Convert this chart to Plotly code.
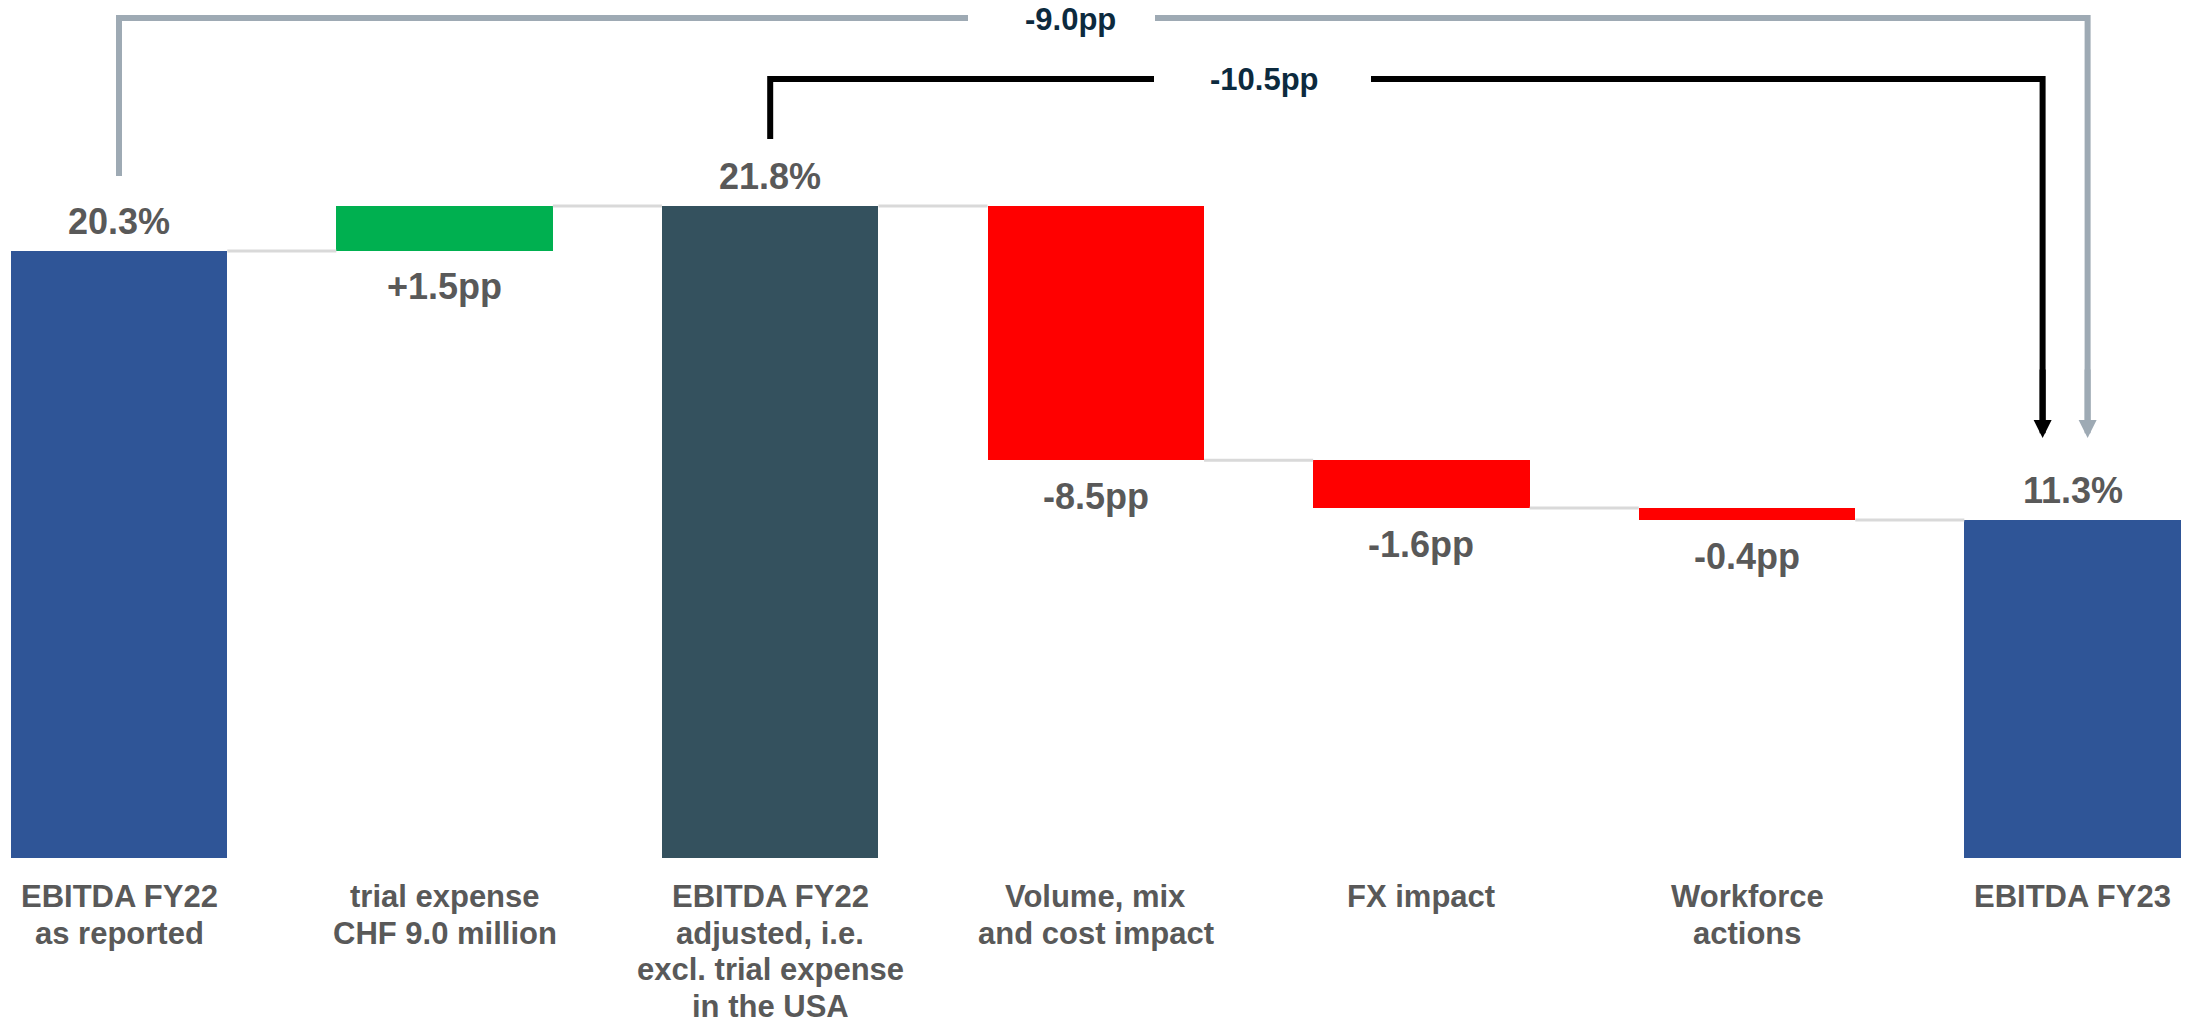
import plotly.graph_objects as go

# ---------------- data ----------------
categories = [
    "EBITDA FY22<br>as reported",
    "trial expense<br>CHF 9.0 million",
    "EBITDA FY22<br>adjusted, i.e.<br>excl. trial expense<br>in the USA",
    "Volume, mix<br>and cost impact",
    "FX impact",
    "Workforce<br>actions",
    "EBITDA FY23",
]
measures = ["absolute", "relative", "total", "relative", "relative", "relative", "total"]
values = [20.3, 1.5, 21.8, -8.5, -1.6, -0.4, 11.3]
value_labels = ["20.3%", "+1.5pp", "21.8%", "-8.5pp", "-1.6pp", "-0.4pp", "11.3%"]
bar_colors = ["#2F5597", "#00B050", "#34515E", "#FF0000", "#FF0000", "#FF0000", "#2F5597"]
bridges = [(0, 6), (2, 6)]  # (from bar, to bar) differences shown as brackets

# ---------------- layout constants ----------------
W, H = 2208, 1024
MB = 166                      # bottom margin (labels area)
PLOT_H = H - MB               # 858
Y_TOP = 28.69                 # y-axis top
PPU = PLOT_H / Y_TOP          # pixels per pp
XPX = 325.6                   # pixels per category
X_LO = -119 / XPX
X_HI = (W - 119) / XPX
BAR_W = 0.665

FONT = "Liberation Sans, Arial, Helvetica, sans-serif"
TXT = "#595959"
NAVY = "#0C2A3E"


def y_of(px):
    return (PLOT_H - px) / PPU


def x_of(px):
    return X_LO + px / XPX


# ---------------- compute bars ----------------
bases, heights, running = [], [], []
total = 0.0
for m, v in zip(measures, values):
    if m in ("absolute", "total"):
        bases.append(0.0)
        heights.append(v)
        total = v
    else:
        bases.append(total)
        heights.append(v)
        total = total + v
    running.append(total)

x = list(range(len(categories)))

fig = go.Figure()

# connectors
for i in range(len(x) - 1):
    fig.add_trace(go.Scatter(
        x=[x[i] + BAR_W / 2, x[i + 1] - BAR_W / 2],
        y=[running[i], running[i]],
        mode="lines", line=dict(color="#D9D9D9", width=3),
        hoverinfo="skip", showlegend=False,
    ))

fig.add_trace(go.Bar(
    x=x, y=heights, base=bases, width=BAR_W,
    marker=dict(color=bar_colors, line=dict(width=0)),
    showlegend=False, hoverinfo="skip",
))

annotations = []
# value labels
for i, (m, b, h, lab) in enumerate(zip(measures, bases, heights, value_labels)):
    if m in ("absolute", "total"):
        yv, ys = b + h, 29.5
    else:
        yv, ys = min(b, b + h), -36
    annotations.append(dict(
        x=x[i], y=yv, xref="x", yref="y", text="<b>%s</b>" % lab,
        showarrow=False, yanchor="middle", xanchor="center", yshift=ys,
        font=dict(family=FONT, size=36, color=TXT),
    ))

# category labels (one annotation per line for exact line spacing)
for i, cat in enumerate(categories):
    for j, line in enumerate(cat.split("<br>")):
        annotations.append(dict(
            x=x[i], y=0, xref="x", yref="paper", text="<b>%s</b>" % line,
            showarrow=False, yanchor="middle", xanchor="center",
            yshift=-(38.5 + j * 36.7),
            font=dict(family=FONT, size=31, color=TXT),
        ))

# brackets
bracket_style = [
    dict(color="#9EAAB4", level=18, start=176, dx=15, gap=(968, 1155), lx=1070, ly=19.5),
    dict(color="#000000", level=79, start=139, dx=-30, gap=(1154, 1371), lx=1264, ly=79),
]
TIP = 438
HEAD = 18
shapes = []
for (a, b), st in zip(bridges, bracket_style):
    diff = values[b] - values[a]
    xa = x[a]
    xb = x[b] + st["dx"] / XPX
    yl = y_of(st["level"])
    path1 = "M %f,%f L %f,%f L %f,%f" % (xa, y_of(st["start"]), xa, yl, x_of(st["gap"][0]), yl)
    path2 = "M %f,%f L %f,%f L %f,%f" % (x_of(st["gap"][1]), yl, xb, yl, xb, y_of(TIP - HEAD + 4))
    for p in (path1, path2):
        shapes.append(dict(type="path", path=p, xref="x", yref="y",
                           line=dict(color=st["color"], width=6)))
    annotations.append(dict(
        x=xb, y=y_of(TIP), ax=xb, ay=y_of(TIP - 70), xref="x", yref="y",
        axref="x", ayref="y", text="", showarrow=True, arrowhead=2,
        arrowsize=0.6, arrowwidth=6, arrowcolor=st["color"], standoff=0,
    ))
    annotations.append(dict(
        x=x_of(st["lx"]), y=y_of(st["ly"]), xref="x", yref="y",
        text="<b>%+.1fpp</b>" % diff, showarrow=False,
        xanchor="center", yanchor="middle",
        font=dict(family=FONT, size=31, color=NAVY),
    ))

fig.update_layout(
    width=W, height=H,
    margin=dict(l=0, r=0, t=0, b=MB, pad=0),
    paper_bgcolor="white", plot_bgcolor="white",
    xaxis=dict(range=[X_LO, X_HI], visible=False, fixedrange=True),
    yaxis=dict(range=[0, Y_TOP], visible=False, fixedrange=True),
    annotations=annotations, shapes=shapes,
    bargap=0, showlegend=False,
)

fig.write_html(
    "out.html",
    config={"displayModeBar": False},
    post_script="document.body.style.margin='0';document.body.style.overflow='hidden';",
)
